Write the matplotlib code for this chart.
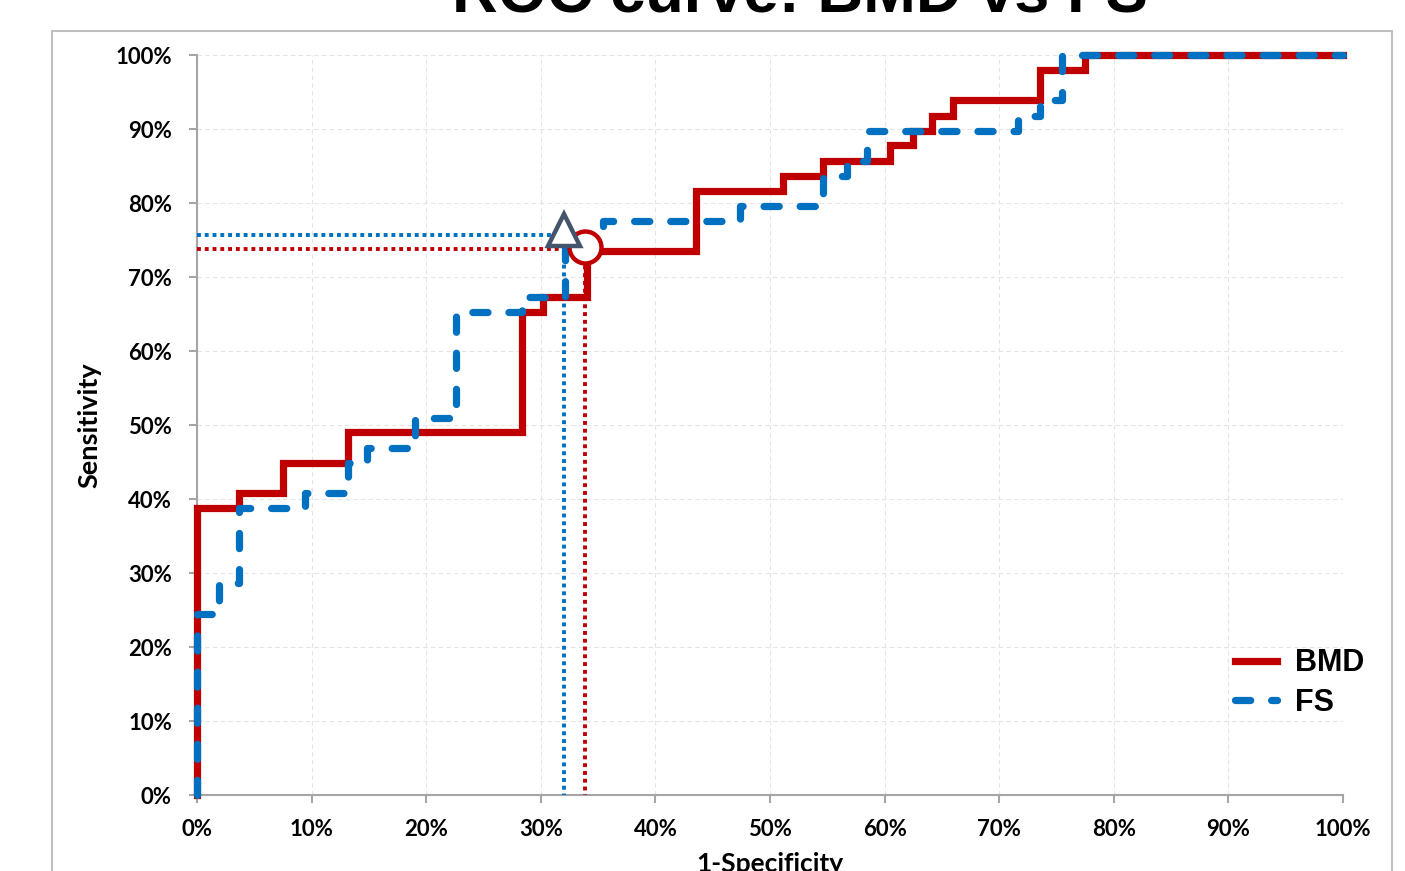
import numpy as np
import matplotlib.pyplot as plt
from matplotlib.patches import Rectangle
from matplotlib.lines import Line2D

# ROC step vertices (percent)
bmd_x = [0, 0, 3.7, 3.7, 7.5, 7.5, 13.2, 13.2, 28.4, 28.4, 30.2, 30.2, 34.0, 34.0,
         43.5, 43.5, 51.1, 51.1, 54.6, 54.6, 60.5, 60.5, 62.5, 62.5, 64.1, 64.1,
         66.0, 66.0, 73.6, 73.6, 77.5, 77.5, 100]
bmd_y = [0, 38.8, 38.8, 40.8, 40.8, 44.9, 44.9, 49.0, 49.0, 65.3, 65.3, 67.3, 67.3, 73.5,
         73.5, 81.6, 81.6, 83.7, 83.7, 85.7, 85.7, 87.8, 87.8, 89.8, 89.8, 91.8,
         91.8, 93.9, 93.9, 98.0, 98.0, 100, 100]

fs_x = [0, 0, 1.9, 1.9, 3.7, 3.7, 9.4, 9.4, 13.2, 13.2, 14.8, 14.8, 19.0, 19.0,
        22.6, 22.6, 28.4, 28.4, 32.1, 32.1, 35.4, 35.4, 47.4, 47.4, 54.6, 54.6,
        56.7, 56.7, 58.5, 58.5, 71.6, 71.6, 73.6, 73.6, 75.5, 75.5, 100]
fs_y = [0, 24.5, 24.5, 28.6, 28.6, 38.8, 38.8, 40.8, 40.8, 44.9, 44.9, 46.9, 46.9, 51.0,
        51.0, 65.3, 65.3, 67.3, 67.3, 75.7, 75.7, 77.6, 77.6, 79.6, 79.6, 83.7,
        83.7, 85.7, 85.7, 89.8, 89.8, 91.8, 91.8, 93.9, 93.9, 100, 100]

# optimal cut-off points
bmd_cut = (33.9, 73.8)
fs_cut = (32.0, 75.7)

red = "#C00000"
blue = "#0070C0"
slate = "#44546A"
gray = "#A6A6A6"

fig = plt.figure(figsize=(14.05, 8.71), dpi=100)
ax = fig.add_axes([0.1402, 0.0872, 0.8157, 0.8496])

# outer chart border
fig.patches.append(Rectangle((0.037, -0.02), 0.9537, 0.9844, transform=fig.transFigure,
                             fill=False, edgecolor="#BFBFBF", linewidth=1.5))

ax.set_xlim(0, 100)
ax.set_ylim(0, 100)
ticks = np.arange(0, 101, 10)
ax.set_xticks(ticks)
ax.set_yticks(ticks)
ax.set_xticklabels(["%d%%" % t for t in ticks])
ax.set_yticklabels(["%d%%" % t for t in ticks])
ax.grid(True, color="#E4E4E4", linewidth=0.8, linestyle=(0, (4, 3)))
ax.set_axisbelow(True)

for s in ["top", "right"]:
    ax.spines[s].set_visible(False)
for s in ["left", "bottom"]:
    ax.spines[s].set_color(gray)
    ax.spines[s].set_linewidth(1.5)
ax.tick_params(direction="out", length=6, width=1.5, color=gray)
ax.tick_params(axis="x", pad=11)
ax.tick_params(axis="y", pad=12)
for lab in ax.get_xticklabels() + ax.get_yticklabels():
    lab.set_fontfamily("Lato")
    lab.set_fontweight("bold")
    lab.set_fontsize(16)

# reference dotted lines
ax.plot([0, bmd_cut[0], bmd_cut[0]], [bmd_cut[1], bmd_cut[1], 0], color=red,
        linewidth=2.8, linestyle=(0, (1, 1)), zorder=3)
ax.plot([0, fs_cut[0], fs_cut[0]], [fs_cut[1], fs_cut[1], 0], color=blue,
        linewidth=2.8, linestyle=(0, (1, 1)), zorder=3)

ax.plot(bmd_x, bmd_y, color=red, linewidth=5.2, solid_joinstyle="miter", zorder=4,
        clip_on=False)
ax.plot(fs_x, fs_y, color=blue, linewidth=5.2, dashes=(2.1, 2.9), dash_capstyle="round",
        zorder=5, clip_on=False)

ax.plot(bmd_cut[0], bmd_cut[1] + 0.3, marker="o", markersize=23, markerfacecolor="white",
        markeredgecolor=red, markeredgewidth=3.2, zorder=6)
ax.plot(fs_cut[0], fs_cut[1] + 0.6, marker="^", markersize=23, markerfacecolor="white",
        markeredgecolor=slate, markeredgewidth=3.2, zorder=7)

ax.set_xlabel("1-Specificity", fontfamily="Lato", fontweight="bold", fontsize=19,
              labelpad=9)
ax.set_ylabel("Sensitivity", fontfamily="Lato", fontweight="bold", fontsize=19.5,
              labelpad=10)

fig.text(0.569, 0.9855, "ROC curve: BMD vs FS", ha="center", va="baseline",
         fontfamily="Liberation Sans", fontweight="bold", fontsize=45.5)

handles = [Line2D([], [], color=red, linewidth=5.2),
           Line2D([], [], color=blue, linewidth=5.2, dashes=(2.1, 2.9),
                  dash_capstyle="round")]
leg = fig.legend(handles, ["BMD", "FS"], loc="center left",
                 bbox_to_anchor=(1220 / 1405, 1 - 683 / 871), frameon=False,
                 prop={"family": "Liberation Sans", "weight": "bold", "size": 22},
                 handlelength=1.35, handletextpad=0.6, labelspacing=0.3,
                 borderpad=0)

fig.savefig("out.png", dpi=100)
